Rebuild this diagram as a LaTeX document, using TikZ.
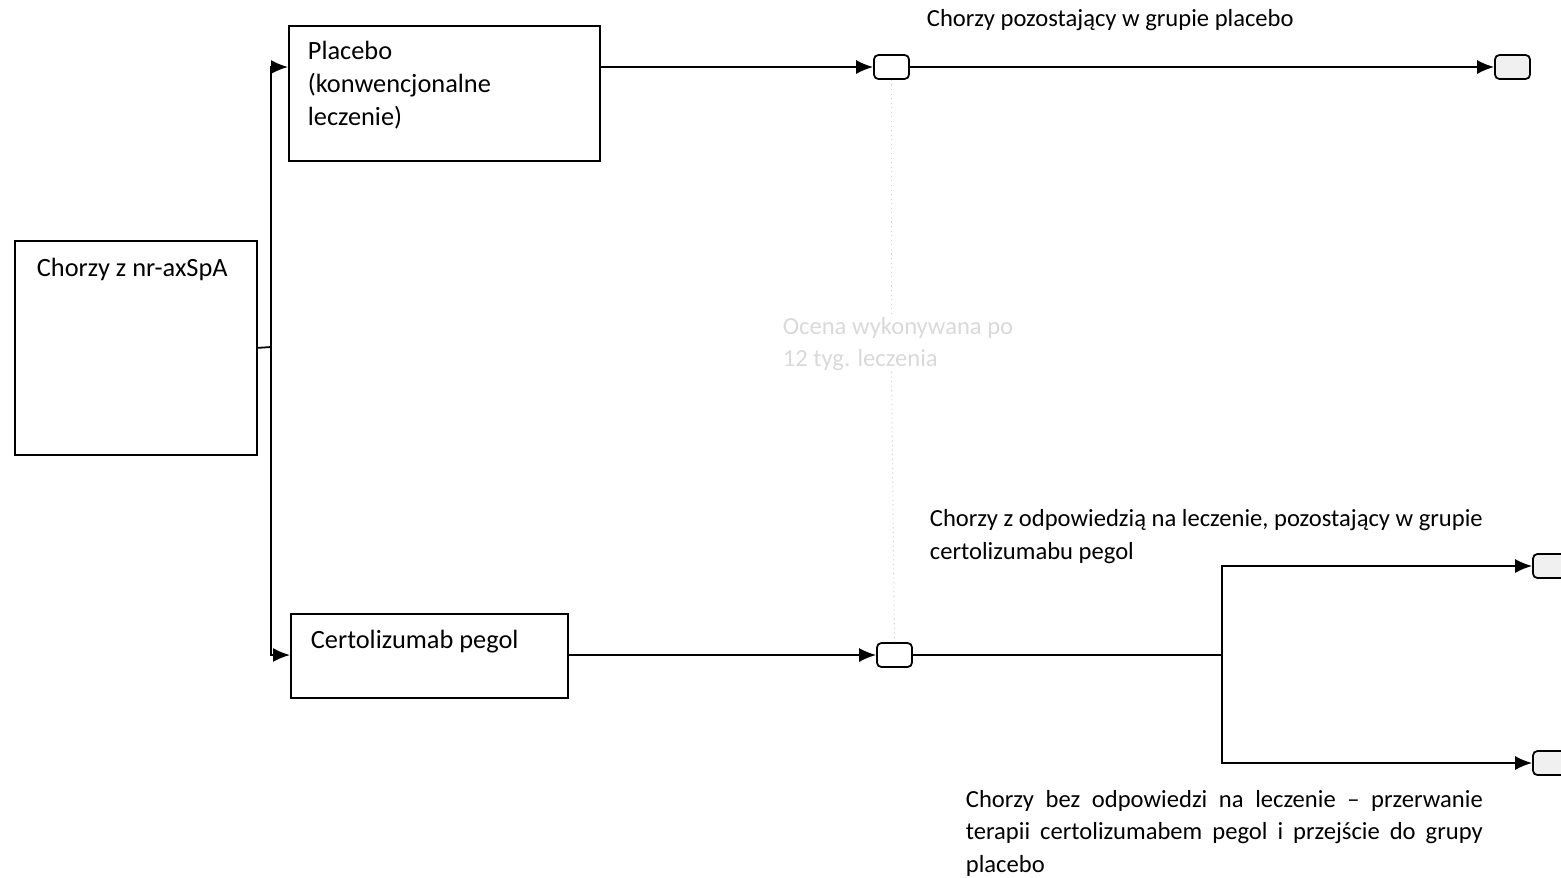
\documentclass[tikz,border=0pt]{standalone}
\usepackage{fontspec}
\setmainfont{Carlito}
\usetikzlibrary{arrows.meta, positioning}

\begin{document}
\begin{tikzpicture}[x=0.02cm, y=-0.02cm, line width=1pt,
  every node/.style = {font=\fontsize{14}{18.7}\selectfont, inner sep=0pt},
  box/.style = {draw, rectangle, anchor=north west},
  boxtxt/.style = {anchor=base west, align=left, font=\fontsize{15}{18.7}\selectfont},
  stage/.style = {draw, rectangle, rounded corners=2.5pt, minimum width=0.7cm, minimum height=0.48cm},
  outcome/.style = {stage, fill=gray!12},
  txt/.style = {anchor=base west, align=left},
  flow/.style = {-{Latex[length=3.4mm, width=2.8mm]}}]

  \useasboundingbox (0,0) rectangle (1561,877);

  % groups
  \node[box, minimum width=4.84cm, minimum height=4.28cm] (patients) at (14,240) {};
  \node[boxtxt] (patientsLbl) at (36,276) {Chorzy z nr-axSpA};

  \node[box, minimum width=6.22cm, minimum height=2.7cm] (placebo) at (288,25) {};
  \node[boxtxt] (placeboLbl) at (307,125) {Placebo\\(konwencjonalne\\leczenie)};

  \node[box, minimum width=5.54cm, minimum height=1.68cm] (certo) at (290,613) {};
  \node[boxtxt] (certoLbl) at (310,648) {Certolizumab pegol};

  % decision points
  \node[stage] (s1) at (891.5,67) {};
  \node[stage] (s2) at (894.5,655) {};
  \node[outcome] (endP) at (1512.5,67) {};
  \node[outcome] (endR) at (1550.5,566) {};
  \node[outcome] (endN) at (1550.5,763) {};

  % connectors
  \coordinate (split) at (271,347);
  \coordinate (fork) at (1222,655);
  \draw (patients.east) -- (split);
  \draw[flow] (split) |- (placebo.west |- s1);
  \draw[flow] (split) |- (certo.west |- s2);
  \draw[flow] (placebo.east |- s1) -- (s1);
  \draw[flow] (s1) -- (endP);
  \draw[flow] (certo.east |- s2) -- (s2);
  \draw (s2) -- (fork);
  \draw[flow] (fork) |- (endR);
  \draw[flow] (fork) |- (endN);

  % faint assessment note
  \node[text=gray!30, align=left] (note) at (898,344) {Ocena wykonywana po\\12 tyg. leczenia};
  \draw[gray!35, dotted, line width=0.6pt] (s1.south) -- (s1.south |- note.north);
  \draw[gray!35, dotted, line width=0.6pt] (s1.south |- note.south) -- (s2.north);

  % labels
  \node[txt] (lblP) at (926,26) {Chorzy pozostający w grupie placebo};
  \node[txt] (lblR) at (929,559) {Chorzy z odpowiedzią na leczenie, pozostający w grupie\\certolizumabu pegol};
  \node[txt, text width=10.34cm, align=justify] (lblN) at (965,807)
    {Chorzy bez odpowiedzi na leczenie -- przerwanie\linebreak terapii certolizumabem pegol i przejście do grupy\linebreak placebo};
\end{tikzpicture}
\end{document}
